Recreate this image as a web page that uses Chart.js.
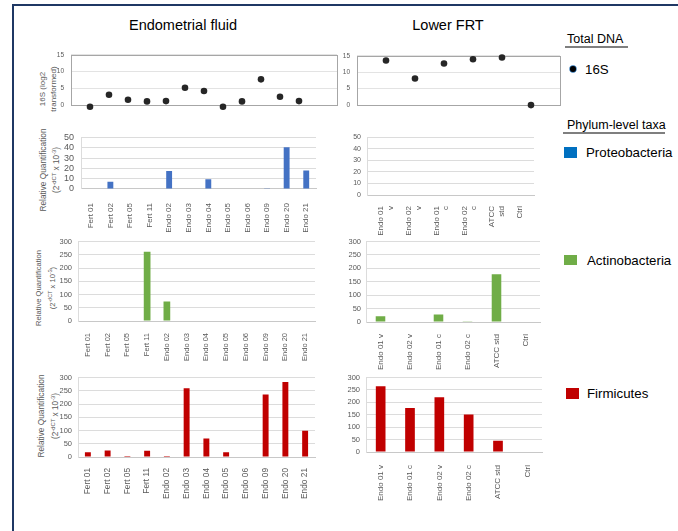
<!DOCTYPE html>
<html>
<head>
<meta charset="utf-8">
<script src="https://cdn.jsdelivr.net/npm/chart.js@4.4.0/dist/chart.umd.min.js"></script>
<style>
  body { margin: 0; background: #fff; width: 678px; height: 531px; overflow: hidden; position: relative;
         font-family: "Liberation Sans", Arial, sans-serif; }
  #frame { position: absolute; left: 12px; top: 4px; width: 720px; height: 525px;
           border-left: 2px solid #1f3864; border-top: 2px solid #1f3864; border-bottom: 1px solid #b4c7e7; }
  canvas { position: absolute; }
  .head { position: absolute; font-size: 14.5px; color: #000; transform: translate(-50%, -50%); white-space: nowrap; }
  .ytitle { position: absolute; color: #595959; white-space: nowrap; text-align: center;
            transform: translate(-50%, -50%) rotate(-90deg); }
  .ytitle sup { font-size: 0.7em; vertical-align: 0.5em; line-height: 0; }
  .lgh { position: absolute; font-size: 12.5px; color: #000; white-space: nowrap; }
  .lgline { position: absolute; height: 2px; background: #7f7f7f; }
  .lgt { position: absolute; font-size: 13.3px; color: #000; white-space: nowrap; transform: translateY(-50%); }
  .sq { position: absolute; }
</style>
</head>
<body>
<div id="frame"></div>

<div class="head" style="left:183px; top:25px;">Endometrial fluid</div>
<div class="head" style="left:448px; top:25px;">Lower FRT</div>

<div class="ytitle" style="left:47.5px; top:89px; font-size:8px; line-height:11px;">16S (log2<br>transformed)</div>
<div class="ytitle" style="left:49.5px; top:170px; font-size:8.3px; line-height:13px;">Relative Quantification<br>(2<sup>-dCT</sup> x 10<sup>-3</sup>)</div>
<div class="ytitle" style="left:46px; top:288px; font-size:7.6px; line-height:14px;">Relative Quantification<br>(2<sup>-dCT</sup> x 10<sup>-3</sup>)</div>
<div class="ytitle" style="left:47.5px; top:416px; font-size:8.3px; line-height:14px;">Relative Quantification<br>(2<sup>-dCT</sup> x 10<sup>-3</sup>)</div>

<div class="lgh" style="left:567px; top:32px;">Total DNA</div>
<div class="lgline" style="left:565px; top:46px; width:63px;"></div>
<div class="sq" style="left:569.5px; top:65.5px; width:6px; height:6px; border-radius:50%; background:#000; box-shadow:0 0 0 0.7px #2e75b6;"></div>
<div class="lgt" style="left:585px; top:69px;">16S</div>

<div class="lgh" style="left:567px; top:118px;">Phylum-level taxa</div>
<div class="lgline" style="left:563px; top:132px; width:102px;"></div>
<div class="sq" style="left:564px; top:147px; width:13px; height:11px; background:#0070c0;"></div>
<div class="lgt" style="left:586px; top:152px;">Proteobacteria</div>
<div class="sq" style="left:564px; top:255px; width:13px; height:10px; background:#70ad47;"></div>
<div class="lgt" style="left:587px; top:260px;">Actinobacteria</div>
<div class="sq" style="left:566px; top:388px; width:13px; height:11px; background:#c00000;"></div>
<div class="lgt" style="left:587px; top:393px;">Firmicutes</div>

<script>
// sample names
var endoLabels = ["Fert 01", "Fert 02", "Fert 05", "Fert 11", "Endo 02", "Endo 03",
                  "Endo 04", "Endo 05", "Endo 06", "Endo 09", "Endo 20", "Endo 21"];
var lowerProteoLabels = [["Endo 01", "v"], ["Endo 02", "v"], ["Endo 01", "c"], ["Endo 02", "c"], ["ATCC", "std"], "Ctrl"];
var lowerActinoLabels = ["Endo 01 v", "Endo 02 v", "Endo 01 c", "Endo 02 c", "ATCC std", "Ctrl"];
var lowerFirmiLabels = ["Endo 01 v", "Endo 01 c", "Endo 02 v", "Endo 02 c", "ATCC std", "Ctrl"];
var lower16SLabels = ["Endo 01 v", "Endo 02 v", "Endo 01 c", "Endo 02 c", "ATCC std", "Ctrl"];

// 16S total DNA (log2)
var endo16S = [-0.5, 3.1, 1.6, 1.1, 1.2, 5.2, 4.2, -0.5, 1.1, 7.7, 2.5, 1.2];
var lower16S = [13.6, 8.1, 12.7, 14.0, 14.5, 0];

// relative quantification (2^-dCT x 10^-3)
var endoProteo = [0, 7, 0, 0, 17.5, 0, 9.5, 0, 0, 0.3, 40.5, 18];
var lowerProteo = [0.4, 0.4, 0.4, 0.4, 0.4, 0];
var endoActino = [0, 0, 0, 261, 74, 0, 0, 0, 0, 0, 0, 0];
var lowerActino = [21, 0, 28, 0.5, 178, 0];
var endoFirmi = [18, 25, 4, 24, 4, 259, 70, 18, 0, 236, 283, 99];
var lowerFirmi = [265, 177, 220, 151, 45, 0];

Chart.defaults.font.family = "'Liberation Sans', Arial, sans-serif";
Chart.defaults.color = "#595959";
Chart.defaults.animation = false;
Chart.defaults.responsive = false;
Chart.defaults.plugins.legend.display = false;
Chart.defaults.plugins.tooltip.enabled = false;

// box round the plot area of the 16S panels
var framePlugin = {
    id: "frame",
    beforeDatasetsDraw: function (chart) {
        var a = chart.chartArea, ctx = chart.ctx;
        ctx.save();
        ctx.strokeStyle = "#a6a6a6";
        ctx.lineWidth = 1;
        ctx.strokeRect(Math.round(a.left) + 0.5, Math.round(a.top) + 0.5,
                       Math.round(a.right - a.left), Math.round(a.bottom - a.top));
        ctx.restore();
    }
};

// r = [left, top, right, bottom] of the plot area in page pixels
function makeCanvas(r, yW, xH, pb) {
    var pt = 6, pr = 4;
    var cv = document.createElement("canvas");
    var left = r[0] - yW, top = r[1] - pt;
    var w = r[2] - left + pr, h = r[3] - top + xH + pb;
    cv.width = w; cv.height = h;
    cv.style.left = left + "px"; cv.style.top = top + "px";
    cv.style.width = w + "px"; cv.style.height = h + "px";
    document.body.appendChild(cv);
    return { cv: cv, padding: { left: 0, top: pt, right: pr, bottom: pb } };
}

function dotChart(r, values, xMax, o) {
    var c = makeCanvas(r, 30, 0, 10);
    var pts = values.map(function (v, i) { return { x: i + 1, y: v }; });
    new Chart(c.cv, {
        type: "scatter",
        data: { datasets: [{ data: pts, clip: false, pointRadius: 3.3,
                             backgroundColor: "#262626", borderColor: "#262626", borderWidth: 0 }] },
        options: {
            devicePixelRatio: 1,
            layout: { padding: c.padding },
            scales: {
                x: { type: "linear", display: false, min: 0, max: xMax },
                y: { min: 0, max: 15,
                     ticks: { stepSize: 5, padding: o.yp, font: { size: o.yf }, autoSkip: false },
                     grid: { color: "#e3e3e3", drawTicks: false },
                     border: { display: false },
                     afterFit: function (s) { s.width = 30; } }
            }
        },
        plugins: [framePlugin]
    });
}

function barChart(r, labels, values, color, o) {
    var c = makeCanvas(r, 30, o.xH, 0);
    new Chart(c.cv, {
        type: "bar",
        data: { labels: labels,
                datasets: [{ data: values, backgroundColor: color, barPercentage: o.bp, categoryPercentage: 1 }] },
        options: {
            devicePixelRatio: 1,
            layout: { padding: c.padding },
            scales: {
                x: { grid: { display: false }, border: { color: "#c8c8c8" },
                     ticks: { autoSkip: false, minRotation: 90, maxRotation: 90, padding: o.xp,
                              font: { size: o.xf }, color: "#595959" },
                     afterFit: function (s) { s.height = o.xH; } },
                y: { min: 0, max: o.max,
                     ticks: { stepSize: o.step, padding: o.yp, font: { size: o.yf }, autoSkip: false },
                     grid: { color: "#dcdcdc", drawTicks: false },
                     border: { color: "#dcdcdc" },
                     afterFit: function (s) { s.width = 30; } }
            }
        }
    });
}

// Total DNA
dotChart([71, 50, 337, 106], endo16S, 14, { yp: 7, yf: 6.5 });
dotChart([357, 51, 560, 106], lower16S, 7, { yp: 7, yf: 6.5 });

// Proteobacteria
barChart([81, 131, 318, 189], endoLabels, endoProteo, "#4472c4",
         { max: 50, step: 10, bp: 0.3, xp: 6, xf: 8, yp: 7, yf: 9, xH: 55 });
barChart([367, 133, 534, 195], lowerProteoLabels, lowerProteo, "#0070c0",
         { max: 50, step: 10, bp: 0.33, xp: 3, xf: 8, yp: 6, yf: 7, xH: 55 });

// Actinobacteria
barChart([78, 237, 315, 321], endoLabels, endoActino, "#70ad47",
         { max: 300, step: 50, bp: 0.34, xp: 4, xf: 7.5, yp: 6, yf: 7.5, xH: 55 });
barChart([366, 238, 540, 322], lowerActinoLabels, lowerActino, "#70ad47",
         { max: 300, step: 50, bp: 0.33, xp: 4, xf: 8, yp: 5, yf: 7.5, xH: 55 });

// Firmicutes
barChart([78, 373, 315, 457], endoLabels, endoFirmi, "#c00000",
         { max: 300, step: 50, bp: 0.3, xp: 3, xf: 8.3, yp: 6, yf: 7.5, xH: 55 });
barChart([366, 373, 542, 452], lowerFirmiLabels, lowerFirmi, "#c00000",
         { max: 300, step: 50, bp: 0.33, xp: 5, xf: 8, yp: 6, yf: 7.5, xH: 55 });
</script>
</body>
</html>
